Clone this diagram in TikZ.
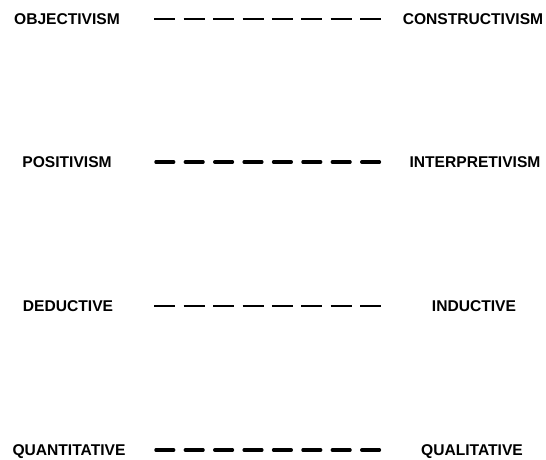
\documentclass[tikz,border=0pt]{standalone}
\usepackage{fontspec}
\setmainfont{Liberation Sans}
\begin{document}
\begin{tikzpicture}[x=1pt,y=-1pt,
  lbl/.style={inner sep=0pt, text height=11pt, text depth=0pt, font=\fontsize{15.6}{18}\selectfont\bfseries},
  thinlink/.style={line width=2.3pt, dash pattern=on 21pt off 8.4pt},
  thicklink/.style={line width=3.3pt, line cap=round, dash pattern=on 17.8pt off 11.6pt}]
\useasboundingbox (0,0) rectangle (546,459);
\node[lbl] (obj) at (67,19) {OBJECTIVISM};
\node[lbl] (con) at (473,19) {CONSTRUCTIVISM};
\node[lbl] (pos) at (67,162) {POSITIVISM};
\node[lbl] (int) at (475,162) {INTERPRETIVISM};
\node[lbl] (ded) at (68,306) {DEDUCTIVE};
\node[lbl] (ind) at (474,306) {INDUCTIVE};
\node[lbl] (qnt) at (69,450) {QUANTITATIVE};
\node[lbl] (qlt) at (472,450) {QUALITATIVE};
\coordinate (a1) at (154.3,19); \coordinate (b1) at (381,19);
\coordinate (a2) at (155.9,162); \coordinate (b2) at (381,162);
\coordinate (a3) at (154.3,306); \coordinate (b3) at (381,306);
\coordinate (a4) at (155.9,450); \coordinate (b4) at (381,450);
\draw[thinlink] (a1) -- (b1);
\draw[thicklink] (a2) -- (b2);
\draw[thinlink] (a3) -- (b3);
\draw[thicklink] (a4) -- (b4);
\end{tikzpicture}
\end{document}
